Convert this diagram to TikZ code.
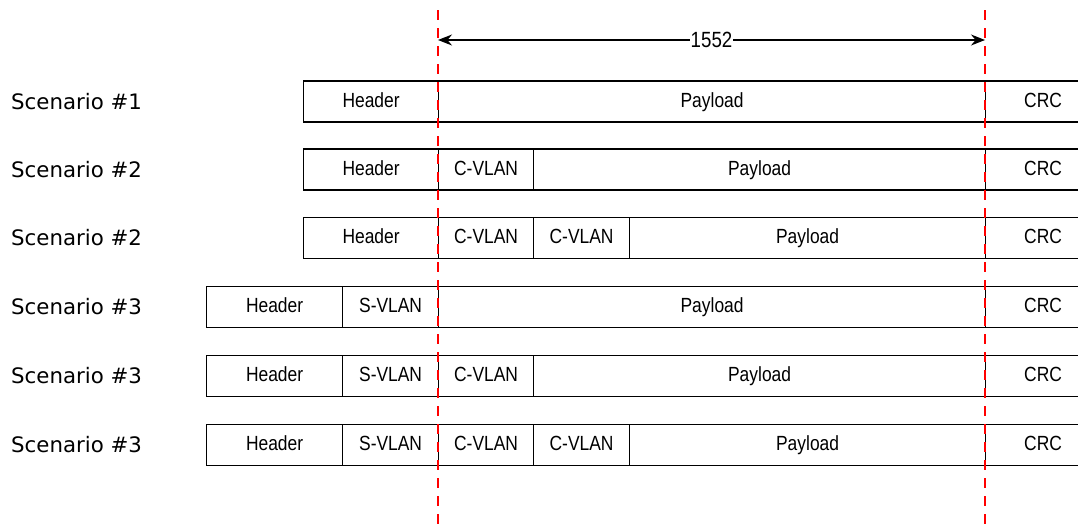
\documentclass[tikz,border=0pt]{standalone}
\usepackage{fontspec}
\newfontfamily\boxfont{Liberation Sans}[FakeStretch=0.85]
\newfontfamily\lblfont{DejaVu Sans}
\usetikzlibrary{arrows.meta}
\begin{document}
\begin{tikzpicture}[x=1pt,y=-1pt,
  fld/.style={draw=black,line width=1.2pt,minimum height=41pt,inner sep=0pt,anchor=west,text height=14.7pt,text depth=3pt,font=\boxfont\fontsize{20.5}{23}\selectfont},
  lbl/.style={anchor=west,inner sep=0pt,font=\lblfont\fontsize{21.3}{24}\selectfont},
  guide/.style={draw=red,line width=1.4pt,dash pattern=on 10pt off 8pt},
  dim/.style={line width=1.3pt,{Stealth[length=14pt,width=11pt]}-{Stealth[length=14pt,width=11pt]}}]
\useasboundingbox (0,0) rectangle (1078,528);
% guides
\coordinate (g1t) at (438,10); \coordinate (g1b) at (438,528);
\coordinate (g2t) at (985,10); \coordinate (g2b) at (985,528);
% rows
\foreach \i/\y/\t in {1/101.5/1,2/169.5/2,3/238/2,4/307/3,5/376/3,6/445/3}{
  \node[lbl] (s\i) at (11,\y) {Scenario \#\t};
  \node[fld,minimum width=115pt] (crc\i) at (985,\y) {CRC};
}
% row 1
\node[fld,minimum width=135pt] (h1) at (303,101.5) {Header};
\node[fld,minimum width=547pt] (p1) at (438,101.5) {Payload};
% row 2
\node[fld,minimum width=135pt] (h2) at (303,169.5) {Header};
\node[fld,minimum width=95pt] (c2) at (438,169.5) {C-VLAN};
\node[fld,minimum width=452pt] (p2) at (533,169.5) {Payload};
% row 3
\node[fld,minimum width=135pt] (h3) at (303,238) {Header};
\node[fld,minimum width=95pt] (c3a) at (438,238) {C-VLAN};
\node[fld,minimum width=96pt] (c3b) at (533,238) {C-VLAN};
\node[fld,minimum width=356pt] (p3) at (629,238) {Payload};
% row 4
\node[fld,minimum width=136pt] (h4) at (206,307) {Header};
\node[fld,minimum width=96pt] (sv4) at (342,307) {S-VLAN};
\node[fld,minimum width=547pt] (p4) at (438,307) {Payload};
% row 5
\node[fld,minimum width=136pt] (h5) at (206,376) {Header};
\node[fld,minimum width=96pt] (sv5) at (342,376) {S-VLAN};
\node[fld,minimum width=95pt] (c5) at (438,376) {C-VLAN};
\node[fld,minimum width=452pt] (p5) at (533,376) {Payload};
% row 6
\node[fld,minimum width=136pt] (h6) at (206,445) {Header};
\node[fld,minimum width=96pt] (sv6) at (342,445) {S-VLAN};
\node[fld,minimum width=95pt] (c6a) at (438,445) {C-VLAN};
\node[fld,minimum width=96pt] (c6b) at (533,445) {C-VLAN};
\node[fld,minimum width=356pt] (p6) at (629,445) {Payload};
% guides drawn over
\draw[guide] (g1t) -- (g1b);
\draw[guide] (g2t) -- (g2b);
% dimension
\coordinate (a1) at (438,40); \coordinate (a2) at (985,40);
\draw[dim] (a1) -- node[fill=white,inner sep=0.5pt,font=\boxfont\fontsize{22}{24}\selectfont] (len) {1552} (a2);
\end{tikzpicture}
\end{document}
